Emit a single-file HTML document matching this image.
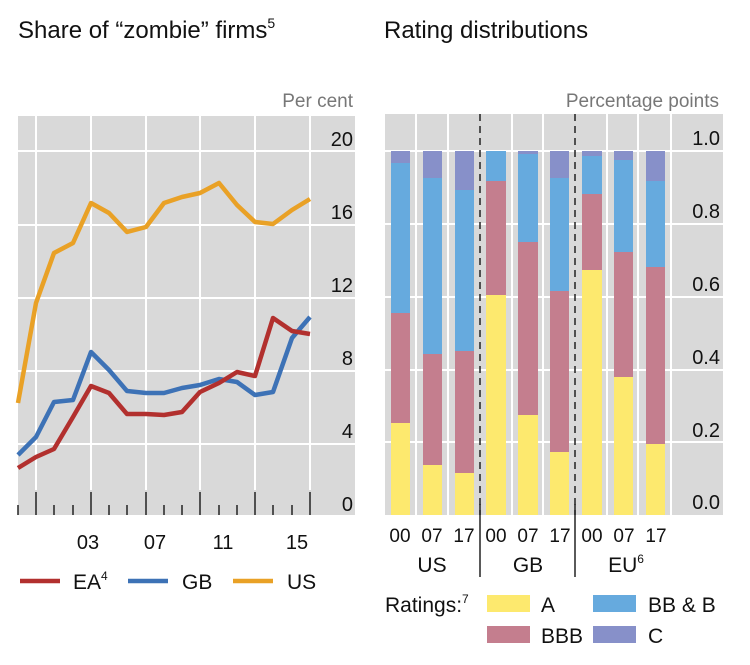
<!DOCTYPE html>
<html><head><meta charset="utf-8"><style>
html,body{margin:0;padding:0;background:#fff;}
svg{display:block;font-family:"Liberation Sans",sans-serif;}
</style></head><body>
<svg width="750" height="665" viewBox="0 0 750 665" xmlns="http://www.w3.org/2000/svg">
<text x="18" y="38" font-size="24" fill="#111">Share of “zombie” firms<tspan font-size="14" dy="-10">5</tspan></text>
<text x="384" y="38" font-size="24" fill="#111">Rating distributions</text>

<!-- Left chart -->
<text x="353" y="107" font-size="19" fill="#777" text-anchor="end">Per cent</text>
<rect x="18" y="116" width="337" height="399" fill="#d9d9d9"/>
<g stroke="#fff" stroke-width="2">
<line x1="18" x2="355" y1="151" y2="151"/><line x1="18" x2="355" y1="225" y2="225"/>
<line x1="18" x2="355" y1="298" y2="298"/><line x1="18" x2="355" y1="371" y2="371"/>
<line x1="18" x2="355" y1="444" y2="444"/>
<line x1="36" x2="36" y1="116" y2="490"/><line x1="91" x2="91" y1="116" y2="490"/>
<line x1="146" x2="146" y1="116" y2="490"/><line x1="200" x2="200" y1="116" y2="490"/>
<line x1="255" x2="255" y1="116" y2="490"/><line x1="310" x2="310" y1="116" y2="490"/>
</g>
<g stroke="#222" stroke-width="1.5">
<line x1="18" x2="18" y1="505" y2="515"/><line x1="36" x2="36" y1="492" y2="515"/>
<line x1="54" x2="54" y1="505" y2="515"/><line x1="73" x2="73" y1="505" y2="515"/>
<line x1="91" x2="91" y1="492" y2="515"/><line x1="109" x2="109" y1="505" y2="515"/>
<line x1="127" x2="127" y1="505" y2="515"/><line x1="146" x2="146" y1="492" y2="515"/>
<line x1="164" x2="164" y1="505" y2="515"/><line x1="182" x2="182" y1="505" y2="515"/>
<line x1="200" x2="200" y1="492" y2="515"/><line x1="219" x2="219" y1="505" y2="515"/>
<line x1="237" x2="237" y1="505" y2="515"/><line x1="255" x2="255" y1="492" y2="515"/>
<line x1="273" x2="273" y1="505" y2="515"/><line x1="292" x2="292" y1="505" y2="515"/>
<line x1="310" x2="310" y1="492" y2="515"/>
</g>
<g font-size="20" fill="#111" text-anchor="end">
<text x="353" y="146">20</text><text x="353" y="219">16</text><text x="353" y="292">12</text>
<text x="353" y="365">8</text><text x="353" y="438">4</text><text x="353" y="511">0</text>
</g>
<g font-size="20" fill="#111" text-anchor="middle">
<text x="88" y="549">03</text><text x="155" y="549">07</text><text x="223" y="549">11</text><text x="297" y="549">15</text>
</g>
<g fill="none" stroke-width="4.5" stroke-linejoin="round">
<polyline stroke="#e9a126" points="18,403 36,303 54,253 73,243 91,203 109,213 127,232 146,227 164,203 182,197 200,193 219,183 237,205 255,222 273,224 292,210 310,199"/>
<polyline stroke="#3d72b6" points="18,455 36,437 54,402 73,400 91,352 109,370 127,391 146,393 164,393 182,388 200,385 219,379 237,382 255,395 273,392 292,338 310,317"/>
<polyline stroke="#b2302e" points="18,468 36,457 54,449 73,417 91,386 109,393 127,414 146,414 164,415 182,412 200,392 219,383 237,372 255,376 273,318 292,331 310,334"/>
</g>
<g stroke-width="4.5">
<line x1="20" x2="60" y1="581" y2="581" stroke="#b2302e"/>
<line x1="128" x2="168" y1="581" y2="581" stroke="#3d72b6"/>
<line x1="233" x2="273" y1="581" y2="581" stroke="#e9a126"/>
</g>
<g font-size="21" fill="#111">
<text x="73" y="589">EA<tspan font-size="12" dy="-9">4</tspan></text>
<text x="182" y="589">GB</text>
<text x="287" y="589">US</text>
</g>

<!-- Right chart -->
<text x="719" y="107" font-size="19" fill="#777" text-anchor="end">Percentage points</text>
<rect x="385" y="114" width="338" height="401" fill="#d9d9d9"/>
<g stroke="#fff" stroke-width="2">
<line x1="385" x2="723" y1="151" y2="151"/><line x1="385" x2="723" y1="224" y2="224"/>
<line x1="385" x2="723" y1="297" y2="297"/><line x1="385" x2="723" y1="370" y2="370"/>
<line x1="385" x2="723" y1="442" y2="442"/>
<line x1="416" x2="416" y1="114" y2="515"/><line x1="448" x2="448" y1="114" y2="515"/>
<line x1="512" x2="512" y1="114" y2="515"/><line x1="543" x2="543" y1="114" y2="515"/>
<line x1="607" x2="607" y1="114" y2="515"/><line x1="638" x2="638" y1="114" y2="515"/>
<line x1="671" x2="671" y1="114" y2="515"/>
</g>
<g>
<rect x="391" y="151" width="19" height="364" fill="#8790c9"/>
<rect x="391" y="163" width="19" height="352" fill="#66aade"/>
<rect x="391" y="313" width="19" height="202" fill="#c47e8e"/>
<rect x="391" y="423" width="19" height="92" fill="#fde96e"/>

<rect x="423" y="151" width="19" height="364" fill="#8790c9"/>
<rect x="423" y="178" width="19" height="337" fill="#66aade"/>
<rect x="423" y="354" width="19" height="161" fill="#c47e8e"/>
<rect x="423" y="465" width="19" height="50" fill="#fde96e"/>

<rect x="455" y="151" width="19" height="364" fill="#8790c9"/>
<rect x="455" y="190" width="19" height="325" fill="#66aade"/>
<rect x="455" y="351" width="19" height="164" fill="#c47e8e"/>
<rect x="455" y="473" width="19" height="42" fill="#fde96e"/>

<rect x="486" y="151" width="20" height="364" fill="#66aade"/>
<rect x="486" y="181" width="20" height="334" fill="#c47e8e"/>
<rect x="486" y="295" width="20" height="220" fill="#fde96e"/>

<rect x="518" y="151" width="20" height="364" fill="#8790c9"/>
<rect x="518" y="154" width="20" height="361" fill="#66aade"/>
<rect x="518" y="242" width="20" height="273" fill="#c47e8e"/>
<rect x="518" y="415" width="20" height="100" fill="#fde96e"/>

<rect x="550" y="151" width="19" height="364" fill="#8790c9"/>
<rect x="550" y="178" width="19" height="337" fill="#66aade"/>
<rect x="550" y="291" width="19" height="224" fill="#c47e8e"/>
<rect x="550" y="452" width="19" height="63" fill="#fde96e"/>

<rect x="582" y="151" width="20" height="364" fill="#8790c9"/>
<rect x="582" y="156" width="20" height="359" fill="#66aade"/>
<rect x="582" y="194" width="20" height="321" fill="#c47e8e"/>
<rect x="582" y="270" width="20" height="245" fill="#fde96e"/>

<rect x="614" y="151" width="19" height="364" fill="#8790c9"/>
<rect x="614" y="160" width="19" height="355" fill="#66aade"/>
<rect x="614" y="252" width="19" height="263" fill="#c47e8e"/>
<rect x="614" y="377" width="19" height="138" fill="#fde96e"/>

<rect x="646" y="151" width="19" height="364" fill="#8790c9"/>
<rect x="646" y="181" width="19" height="334" fill="#66aade"/>
<rect x="646" y="267" width="19" height="248" fill="#c47e8e"/>
<rect x="646" y="444" width="19" height="71" fill="#fde96e"/>
</g>
<g stroke="#222" stroke-width="1.5" stroke-dasharray="7,5">
<line x1="480" x2="480" y1="114" y2="515"/><line x1="575" x2="575" y1="114" y2="515"/>
</g>
<g stroke="#222" stroke-width="1.5">
<line x1="480" x2="480" y1="504" y2="577"/><line x1="575" x2="575" y1="504" y2="577"/>
</g>
<g font-size="20" fill="#111" text-anchor="end">
<text x="720" y="145">1.0</text><text x="720" y="218">0.8</text><text x="720" y="291">0.6</text>
<text x="720" y="364">0.4</text><text x="720" y="437">0.2</text><text x="720" y="509">0.0</text>
</g>
<g font-size="19" fill="#111" text-anchor="middle">
<text x="400" y="542">00</text><text x="432" y="542">07</text><text x="464" y="542">17</text>
<text x="496" y="542">00</text><text x="528" y="542">07</text><text x="560" y="542">17</text>
<text x="592" y="542">00</text><text x="624" y="542">07</text><text x="656" y="542">17</text>
</g>
<g font-size="21" fill="#111" text-anchor="middle">
<text x="432" y="572">US</text><text x="528" y="572">GB</text>
<text x="626" y="572">EU<tspan font-size="12" dy="-9">6</tspan></text>
</g>
<text x="385" y="612" font-size="21" fill="#111">Ratings:<tspan font-size="12" dy="-9">7</tspan></text>
<rect x="487" y="595" width="43" height="17" fill="#fde96e"/>
<rect x="593" y="595" width="43" height="17" fill="#66aade"/>
<rect x="487" y="626" width="43" height="17" fill="#c47e8e"/>
<rect x="593" y="626" width="43" height="17" fill="#8790c9"/>
<g font-size="21" fill="#111">
<text x="541" y="612">A</text><text x="648" y="612">BB &amp; B</text>
<text x="541" y="643">BBB</text><text x="648" y="643">C</text>
</g>
</svg>
</body></html>
